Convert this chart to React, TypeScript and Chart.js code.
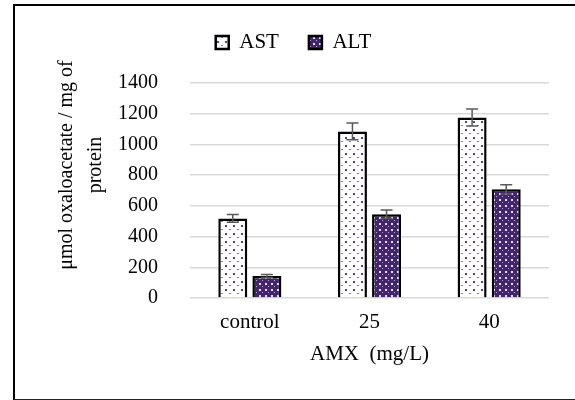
import React, { useEffect, useRef } from "react";
import { Chart, registerables } from "chart.js";

Chart.register(...registerables);

const categories = ["control", "25", "40"];
const astValues = [518, 1085, 1175];
const altValues = [143, 545, 708];
const astErrors = [25, 55, 55];
const altErrors = [10, 28, 30];
const yTicks = [0, 200, 400, 600, 800, 1000, 1200, 1400];
const yTitleLines = ["μmol oxaloacetate / mg of", "protein"];
const xTitle = "AMX  (mg/L)";

const FONT = "'Liberation Serif', 'Times New Roman', serif";

function makeAstPattern(ctx: CanvasRenderingContext2D) {
  const c = document.createElement("canvas");
  c.width = 8;
  c.height = 8;
  const g = c.getContext("2d")!;
  g.fillStyle = "#ffffff";
  g.fillRect(0, 0, 8, 8);
  g.fillStyle = "#5b3c88";
  g.fillRect(1, 1, 2, 2);
  g.fillStyle = "#8a74ac";
  g.fillRect(5, 5, 2, 1);
  return ctx.createPattern(c, "repeat")!;
}

function makeAltPattern(ctx: CanvasRenderingContext2D) {
  const c = document.createElement("canvas");
  c.width = 6;
  c.height = 6;
  const g = c.getContext("2d")!;
  g.fillStyle = "#43246f";
  g.fillRect(0, 0, 6, 6);
  g.fillStyle = "#e6def0";
  g.fillRect(1, 1, 2, 2);
  g.fillStyle = "#b9a8d2";
  g.fillRect(4, 4, 1, 1);
  return ctx.createPattern(c, "repeat")!;
}

const errorBarPlugin = {
  id: "errorBars",
  afterDatasetsDraw(chart: any) {
    const ctx = chart.ctx;
    const yScale = chart.scales.y;
    const errs = [astErrors, altErrors];
    const vals = [astValues, altValues];
    ctx.save();
    ctx.strokeStyle = "#595959";
    ctx.lineWidth = 1.5;
    chart.data.datasets.forEach((_: any, i: number) => {
      const meta = chart.getDatasetMeta(i);
      meta.data.forEach((bar: any, j: number) => {
        const v = vals[i][j];
        const e = errs[i][j];
        const yT = yScale.getPixelForValue(v + e);
        const yB = yScale.getPixelForValue(v - e);
        const x = bar.x;
        const cap = 6;
        ctx.beginPath();
        ctx.moveTo(x, yT);
        ctx.lineTo(x, yB);
        ctx.moveTo(x - cap, yT);
        ctx.lineTo(x + cap, yT);
        ctx.moveTo(x - cap, yB);
        ctx.lineTo(x + cap, yB);
        ctx.stroke();
      });
    });
    ctx.restore();
  },
};

const legendSpacePlugin = {
  id: "legendSpace",
  afterInit(chart: any) {
    const lg = chart.legend;
    if (lg && !lg.__patched) {
      const origFit = lg.fit.bind(lg);
      lg.fit = function () {
        origFit();
        this.height += 20;
      };
      lg.__patched = true;
    }
  },
  afterLayout(chart: any) {
    const lg = chart.legend;
    if (lg) {
      lg.left += 19;
      lg.right += 19;
    }
  },
};

const yTitlePlugin = {
  id: "yTitle",
  afterDraw(chart: any) {
    const ctx = chart.ctx;
    ctx.save();
    ctx.fillStyle = "#000000";
    ctx.font = `20px ${FONT}`;
    ctx.textAlign = "center";
    ctx.textBaseline = "middle";
    const cy = 165;
    const xs = [67, 96];
    yTitleLines.forEach((line, i) => {
      ctx.save();
      ctx.translate(xs[i], cy);
      ctx.rotate(-Math.PI / 2);
      ctx.fillText(line, 0, 0);
      ctx.restore();
    });
    ctx.restore();
  },
};

export default function App() {
  const ref = useRef<HTMLCanvasElement | null>(null);

  useEffect(() => {
    const canvas = ref.current!;
    const ctx = canvas.getContext("2d")!;
    const astPattern = makeAstPattern(ctx);
    const altPattern = makeAltPattern(ctx);

    const chart = new Chart(canvas, {
      type: "bar",
      data: {
        labels: categories,
        datasets: [
          {
            label: "AST",
            data: astValues,
            backgroundColor: astPattern,
            borderColor: "#000000",
            borderWidth: 2.5,
            categoryPercentage: 0.57,
            barPercentage: 0.85,
          },
          {
            label: "ALT",
            data: altValues,
            backgroundColor: altPattern,
            borderColor: "#000000",
            borderWidth: 2.5,
            categoryPercentage: 0.57,
            barPercentage: 0.85,
          },
        ],
      },
      options: {
        responsive: false,
        animation: false,
        layout: { padding: { top: 2, left: 0, right: 26, bottom: 0 } },
        plugins: {
          tooltip: { enabled: false },
          legend: {
            display: true,
            position: "top",
            labels: {
              boxWidth: 13,
              boxHeight: 13,
              padding: 30,
              color: "#000000",
              font: { family: FONT, size: 21 },
            },
          },
        },
        scales: {
          x: {
            grid: { display: false, drawTicks: false },
            border: { display: false },
            ticks: {
              color: "#000000",
              padding: 12,
              font: { family: FONT, size: 21 },
            },
            title: {
              display: true,
              text: xTitle,
              color: "#000000",
              font: { family: FONT, size: 21 },
              padding: { top: 0, bottom: 33 },
            },
            afterFit: (s: any) => {
              s.height = 102;
            },
          },
          y: {
            min: 0,
            max: 1400,
            afterBuildTicks: (s: any) => {
              s.ticks = yTicks.map((v) => ({ value: v }));
            },
            grid: { color: "#d9d9d9", lineWidth: 1.5, drawTicks: false },
            border: { display: false },
            ticks: {
              color: "#000000",
              padding: 32,
              font: { family: FONT, size: 20 },
              callback: (v: any) => String(v),
            },
            afterFit: (s: any) => {
              s.width = 190;
            },
          },
        },
      },
      plugins: [errorBarPlugin, yTitlePlugin, legendSpacePlugin],
    });
    return () => chart.destroy();
  }, []);

  return (
    <div
      style={{
        position: "fixed",
        left: 0,
        top: 0,
        width: 575,
        height: 400,
        overflow: "hidden",
        background: "#ffffff",
      }}
    >
      <canvas
        ref={ref}
        width={575}
        height={400}
        style={{ position: "absolute", left: 0, top: 0, width: 575, height: 400 }}
      />
      <div
        style={{
          position: "absolute",
          left: 13,
          top: 4,
          width: 600,
          height: 393,
          borderLeft: "2.5px solid #000",
          borderTop: "2.5px solid #000",
          borderBottom: "1.5px solid #222",
          pointerEvents: "none",
        }}
      />
    </div>
  );
}
